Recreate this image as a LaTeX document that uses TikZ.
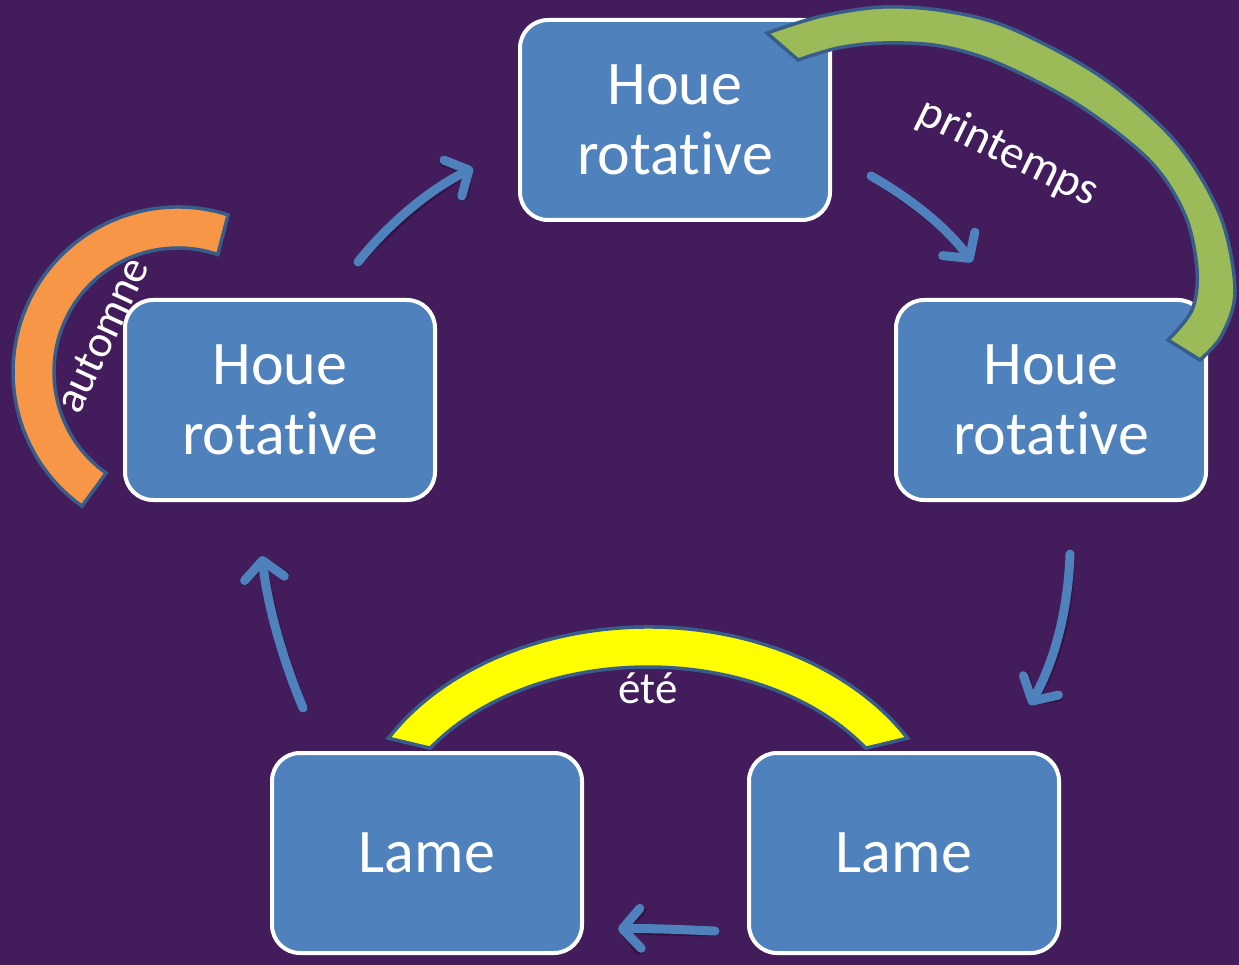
\documentclass[tikz,border=0pt]{standalone}
\usepackage{fontspec}
\setmainfont{Carlito}[Ligatures={NoCommon,NoContextual}]
\usetikzlibrary{arrows.meta}
\definecolor{bg}{HTML}{421C5B}
\definecolor{boxblue}{HTML}{4F81BD}
\definecolor{arrowblue}{HTML}{4F81BD}
\definecolor{arcedge}{HTML}{385D8A}
\definecolor{arcgreen}{HTML}{9BBB59}
\definecolor{arcorange}{HTML}{F79646}
\definecolor{arcyellow}{HTML}{FFFF00}
\begin{document}
\begin{tikzpicture}[x=1pt,y=-1pt,
  box/.style={draw=white,line width=4pt,fill=boxblue,rounded corners=28pt,
    minimum width=310pt,minimum height=200pt,text=white,
    font=\fontsize{62}{70}\selectfont,align=center,inner sep=0pt},
  flow/.style={draw=arrowblue,line width=9pt,line cap=round,
    -{Straight Barb[length=18pt,width=40pt,round]}},
  flowshadow/.style={draw=black,opacity=0.25,line width=9pt,line cap=round,
    -{Straight Barb[length=18pt,width=40pt,round]}},
  band/.style={draw=arcedge,line width=3.5pt,line join=miter},
  lbl/.style={text=white,font=\fontsize{45}{50}\selectfont,inner sep=0pt}]
\fill[bg] (0,0) rectangle (1239,965);
\useasboundingbox (0,0) rectangle (1239,965);

% boxes
\node[box] (top) at (675,120) {Houe\\rotative};
\node[box] (right) at (1051,400) {Houe\\rotative};
\node[box] (left) at (280,400) {Houe\\rotative};
\node[box] (bl) at (427,853) {Lame};
\node[box] (br) at (904,853) {Lame};

% arrow end points
\coordinate (a1s) at (358,262); \coordinate (a1e) at (473,168);
\coordinate (a2s) at (871,176); \coordinate (a2e) at (972,262);
\coordinate (a3s) at (1070,554); \coordinate (a3e) at (1030,705);
\coordinate (a4s) at (715,931); \coordinate (a4e) at (618,929);
\coordinate (a5s) at (303,708); \coordinate (a5e) at (262,556);

\begin{scope}[shift={(2,3)}]
\draw[flowshadow] (a1s) .. controls (385,228) and (425,192) .. (a1e);
\draw[flowshadow] (a2s) .. controls (905,195) and (945,225) .. (a2e);
\draw[flowshadow] (a3s) .. controls (1068,610) and (1055,660) .. (a3e);
\draw[flowshadow] (a4s) .. controls (690,930) and (650,928) .. (a4e);
\draw[flowshadow] (a5s) .. controls (285,665) and (268,610) .. (a5e);
\end{scope}
\draw[flow] (a1s) .. controls (385,228) and (425,192) .. (a1e);
\draw[flow] (a2s) .. controls (905,195) and (945,225) .. (a2e);
\draw[flow] (a3s) .. controls (1068,610) and (1055,660) .. (a3e);
\draw[flow] (a4s) .. controls (690,930) and (650,928) .. (a4e);
\draw[flow] (a5s) .. controls (285,665) and (268,610) .. (a5e);

% green block arc (printemps)
\draw[band,fill=arcgreen]
  plot[smooth,tension=0.55] coordinates {(767,33) (822,16) (883,7) (945,11)
    (1010,28) (1100,76) (1175,141) (1220,215) (1235,290) (1222,335) (1200,360)}
  -- plot[smooth,tension=0.55] coordinates {(1168,340) (1192,310) (1197,270)
    (1185,215) (1150,161) (1080,106) (1000,64) (940,46) (883,43) (838,48) (798,60)}
  -- cycle;
% orange block arc (automne)
\begin{scope}[shift={(178,372)}]
\draw[band,fill=arcorange] (-72.3:165 and 165)
  arc[start angle=-72.3,end angle=-234.4,x radius=165,y radius=165]
  -- (-234.6:124 and 124)
  arc[start angle=-234.6,end angle=-71.3,x radius=124,y radius=124] -- cycle;
\end{scope}
% yellow block arc (ete)
\begin{scope}[shift={(648,850)}]
\draw[band,fill=arcyellow] (-149.9:300 and 223)
  arc[start angle=-149.9,end angle=-30.1,x radius=300,y radius=223]
  -- (-33.8:262 and 183)
  arc[start angle=-33.8,end angle=-146.2,x radius=262,y radius=183] -- cycle;
\end{scope}

% labels
\node[lbl,rotate=65] (aut) at (102,335) {automne};
\node[lbl,rotate=-26,font=\fontsize{47}{52}\selectfont] (pri) at (1008,153) {printemps};
\node[lbl] (ete) at (648,688) {été};
\end{tikzpicture}
\end{document}
